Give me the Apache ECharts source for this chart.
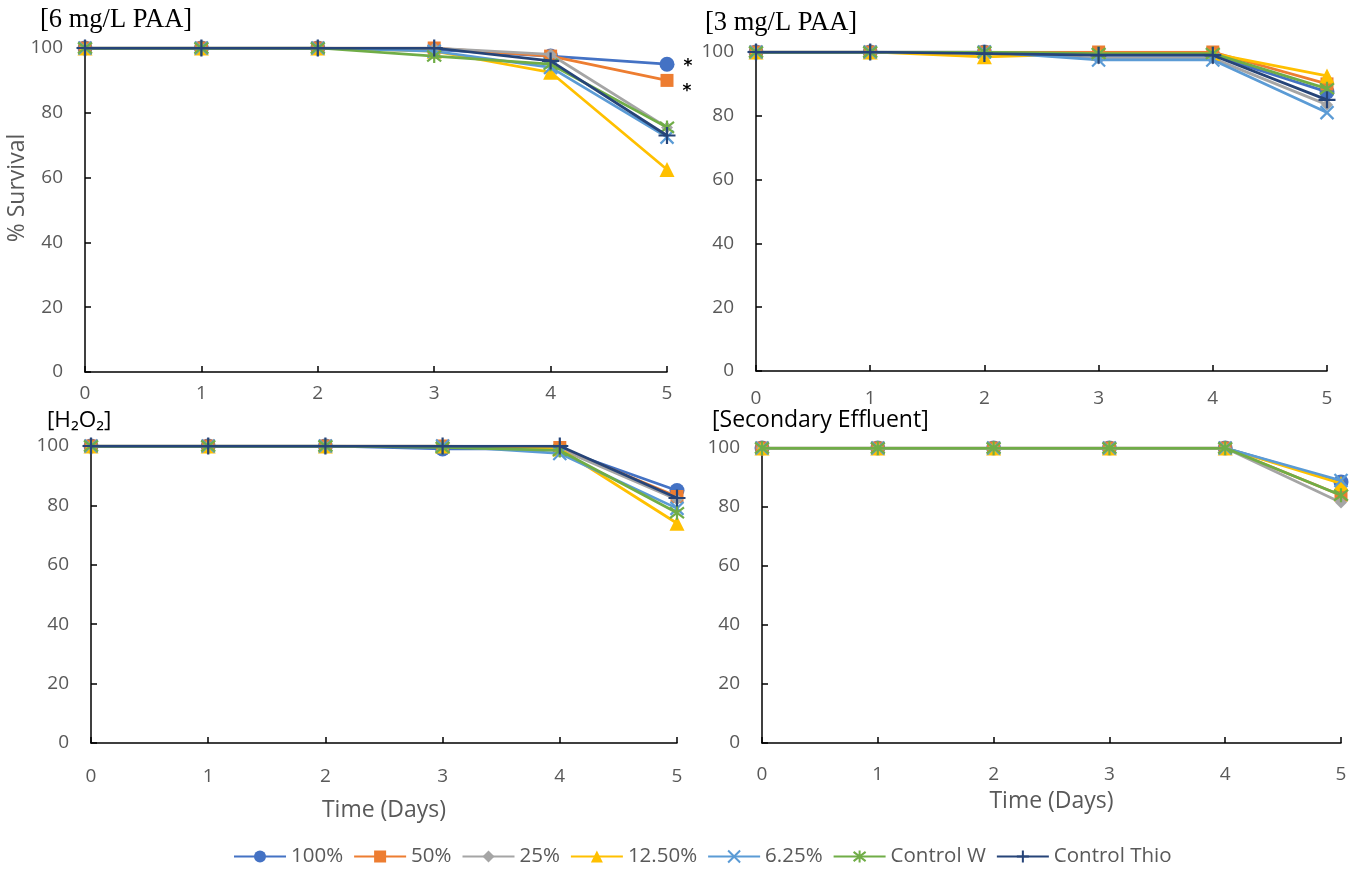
<!DOCTYPE html>
<html>
<head>
<meta charset="utf-8">
<title>% Survival over time</title>
<script src="https://cdn.jsdelivr.net/npm/echarts@6/dist/echarts.min.js"></script>
<style>
  html, body { margin: 0; padding: 0; background: #fff; }
  #chart { width: 1360px; height: 872px; }
</style>
</head>
<body>
<div id="chart"></div>
<script>
// Sampling days (x axis)
const days = [0, 1, 2, 3, 4, 5];
const dayTicks = ['0', '1', '2', '3', '4', '5'];
const seriesNames = ['100%', '50%', '25%', '12.50%', '6.25%', 'Control W', 'Control Thio'];
const panelTitles = ['[6 mg/L PAA]', '[3 mg/L PAA]', '[H\u2082O\u2082]', '[Secondary Effluent]'];

// [6 mg/L PAA]
const paa6_100 = [100, 100, 100, 99.5, 97.5, 95];
const paa6_50 = [100, 100, 100, 100, 97.5, 90];
const paa6_25 = [100, 100, 100, 100, 98, 75.5];
const paa6_125 = [100, 100, 100, 99, 92.5, 62.5];
const paa6_625 = [100, 100, 100, 99, 94, 72.5];
const paa6_W = [100, 100, 100, 97.5, 95, 75.5];
const paa6_T = [100, 100, 100, 100, 96, 73];

// [3 mg/L PAA]
const paa3_100 = [100, 100, 100, 99, 99, 87.5];
const paa3_50 = [100, 100, 100, 100, 100, 90];
const paa3_25 = [100, 100, 100, 98, 98, 83.5];
const paa3_125 = [100, 100, 98.5, 99.5, 99.5, 92.5];
const paa3_625 = [100, 100, 100, 97.5, 97.5, 81];
const paa3_W = [100, 100, 100, 99.5, 99.5, 88.5];
const paa3_T = [100, 100, 99.5, 99, 99, 85];

// [H2O2]
const h2o2_100 = [100, 100, 100, 99, 99, 85];
const h2o2_50 = [100, 100, 100, 100, 99.5, 83];
const h2o2_25 = [100, 100, 100, 100, 99, 82];
const h2o2_125 = [100, 100, 100, 100, 99, 74];
const h2o2_625 = [100, 100, 100, 100, 97.5, 79];
const h2o2_W = [100, 100, 100, 99.5, 98.5, 77.5];
const h2o2_T = [100, 100, 100, 100, 100, 82.5];

// [Secondary Effluent] (no thiosulfate control)
const se_100 = [100, 100, 100, 100, 100, 88.5];
const se_50 = [100, 100, 100, 100, 100, 84];
const se_25 = [100, 100, 100, 100, 100, 81.5];
const se_125 = [100, 100, 100, 100, 100, 88];
const se_625 = [100, 100, 100, 100, 100, 89];
const se_W = [100, 100, 100, 100, 100, 84];

// Day-5 points flagged as significant in the 6 mg/L panel
const flagged6 = ['100%', '50%'];

const panelData = [
  [paa6_100, paa6_50, paa6_25, paa6_125, paa6_625, paa6_W, paa6_T],
  [paa3_100, paa3_50, paa3_25, paa3_125, paa3_625, paa3_W, paa3_T],
  [h2o2_100, h2o2_50, h2o2_25, h2o2_125, h2o2_625, h2o2_W, h2o2_T],
  [se_100, se_50, se_25, se_125, se_625, se_W, null]
];

const colors = ['#4472C4', '#ED7D31', '#A5A5A5', '#FFC000', '#5B9BD5', '#70AD47', '#264478'];
const symbols = [
  'circle', 'rect', 'diamond', 'triangle',
  'path://M0,0L10,10M10,0L0,10',
  'path://M0,0L10,10M10,0L0,10M5,-1.5L5,11.5',
  'path://M5,0L5,10M0,5L10,5'
];
const symbolSizes = [15, 13, 12, 15, 13, 14, 17];
const strokeSymbol = [false, false, false, false, true, true, true];

const grids = [
  { left: 85, top: 48, width: 582, height: 324 },
  { left: 756, top: 52, width: 571, height: 319 },
  { left: 91, top: 446, width: 586, height: 297 },
  { left: 762, top: 448, width: 579, height: 295 }
];
const xLabelMargin = [12, 18, 24, 22];

const FONT = '"Open Sans", "Noto Sans", sans-serif';
const GREY = '#595959';

const xAxes = grids.map((g, i) => ({
  type: 'value', gridIndex: i, min: 0, max: 5, interval: 1,
  axisLine: { show: true, onZero: false, lineStyle: { color: '#000', width: 1.5 } },
  axisTick: { show: true, inside: true, length: 6, lineStyle: { color: '#000', width: 1.5 } },
  axisLabel: { color: GREY, fontSize: 19, fontFamily: FONT, margin: xLabelMargin[i],
    formatter: v => dayTicks[days.indexOf(v)] },
  splitLine: { show: false },
  name: i >= 2 ? 'Time (Days)' : '',
  nameLocation: 'middle',
  nameGap: i === 2 ? 56 : 47,
  nameTextStyle: { color: GREY, fontSize: 23, fontFamily: FONT }
}));

const yAxes = grids.map((g, i) => ({
  type: 'value', gridIndex: i, min: 0, max: 100, interval: 20,
  axisLine: { show: true, onZero: false, lineStyle: { color: '#000', width: 1.5 } },
  axisTick: { show: true, inside: true, length: 6, lineStyle: { color: '#000', width: 1.5 } },
  axisLabel: { color: GREY, fontSize: 19, fontFamily: FONT, margin: 22 },
  splitLine: { show: false }
}));

const series = [];
panelData.forEach((lists, p) => {
  lists.forEach((vals, s) => {
    if (!vals) return;
    const data = days.map((d, k) => {
      const item = { value: [d, vals[k]] };
      if (p === 0 && k === days.length - 1 && flagged6.includes(seriesNames[s])) {
        item.label = { show: true, formatter: '*', position: 'right', distance: 9,
          offset: [0, s === 0 ? 2 : 11],
          color: '#000', fontSize: 17, fontWeight: 'bold', fontFamily: 'DejaVu Sans' };
      }
      return item;
    });
    series.push({
      name: seriesNames[s],
      type: 'line',
      xAxisIndex: p, yAxisIndex: p,
      data: data,
      symbol: symbols[s],
      symbolSize: symbolSizes[s],
      showAllSymbol: true,
      lineStyle: { color: colors[s], width: 2.75 },
      itemStyle: { color: colors[s], borderColor: colors[s], borderWidth: strokeSymbol[s] ? 2.2 : 0 },
      emphasis: { disabled: true },
      animation: false,
      z: 2 + s
    });
  });
});

const titlePos = [
  { x: 40, y: 22, font: '"Liberation Serif", "DejaVu Serif", serif', size: 26.5 },
  { x: 705, y: 25, font: '"Liberation Serif", "DejaVu Serif", serif', size: 26.5 },
  { x: 47, y: 423, font: FONT, size: 22.5 },
  { x: 712, y: 423, font: FONT, size: 23 }
];

const graphic = titlePos.map((t, i) => ({
  type: 'text', left: t.x, top: t.y - t.size * 0.6, z: 50,
  style: { text: panelTitles[i], fill: '#000', font: t.size + 'px ' + t.font }
}));
graphic.push({
  type: 'text', x: 17, y: 188, rotation: Math.PI / 2, z: 50,
  style: { text: '% Survival', fill: GREY, font: '23px ' + FONT, textAlign: 'center', textVerticalAlign: 'middle' }
});

const chart = echarts.init(document.getElementById('chart'), null, { renderer: 'canvas' });
chart.setOption({
  backgroundColor: '#fff',
  animation: false,
  grid: grids,
  xAxis: xAxes,
  yAxis: yAxes,
  series: series,
  graphic: graphic,
  legend: {
    data: seriesNames,
    bottom: 0,
    left: 228,
    itemWidth: 52,
    itemHeight: 15,
    itemGap: 10,
    textStyle: { color: GREY, fontSize: 20.5, fontFamily: FONT },
    selectedMode: false
  },
  tooltip: { show: false }
});
</script>
</body>
</html>
